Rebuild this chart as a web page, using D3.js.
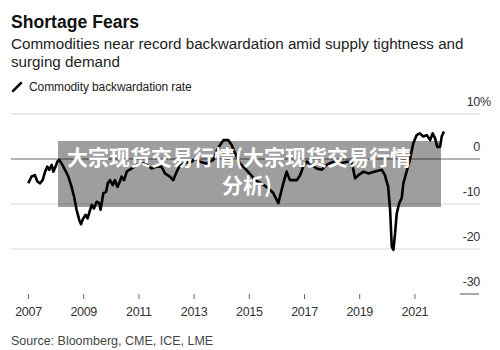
<!DOCTYPE html>
<html>
<head>
<meta charset="utf-8">
<script src="https://cdn.jsdelivr.net/npm/d3@7"></script>
<style>
    body { margin: 0; background: #fff; }
    svg { display: block; font-family: "Liberation Sans", Arial, sans-serif; }
</style>
</head>
<body>
<div id="chart"></div>
<script>
// decimal years and backwardation rate (%)
var dates = [
    2007.01, 2007.13, 2007.25, 2007.34, 2007.43, 2007.53, 2007.62, 2007.70, 2007.77, 2007.86,
    2007.92, 2008.00, 2008.06, 2008.13, 2008.22, 2008.34, 2008.46, 2008.58, 2008.67, 2008.76,
    2008.86, 2008.92, 2009.00, 2009.09, 2009.16, 2009.25, 2009.31, 2009.39, 2009.49, 2009.58,
    2009.63, 2009.73, 2009.83, 2009.89, 2009.97, 2010.07, 2010.15, 2010.24, 2010.33, 2010.39,
    2010.48, 2010.58, 2010.67, 2010.76, 2010.94, 2011.06, 2011.18, 2011.30, 2011.48, 2011.66,
    2011.84, 2011.96, 2012.14, 2012.26, 2012.39, 2012.51, 2012.75, 2012.93, 2013.05, 2013.23,
    2013.47, 2013.71, 2013.85, 2013.96, 2014.08, 2014.26, 2014.38, 2014.50, 2014.68, 2014.86,
    2015.04, 2015.26, 2015.48, 2015.70, 2015.88, 2016.07, 2016.25, 2016.37, 2016.49, 2016.74,
    2016.86, 2016.97, 2017.10, 2017.28, 2017.46, 2017.64, 2017.82, 2018.06, 2018.30, 2018.55,
    2018.73, 2018.85, 2018.97, 2019.15, 2019.33, 2019.57, 2019.82, 2019.93, 2020.05, 2020.12,
    2020.18, 2020.24, 2020.30, 2020.36, 2020.45, 2020.54, 2020.60, 2020.70, 2020.82, 2020.96,
    2021.08, 2021.20, 2021.32, 2021.45, 2021.57, 2021.66, 2021.75, 2021.83, 2021.93, 2021.99,
    2022.07
];
var rate = [
    -5.4, -3.9, -3.6, -5.0, -5.4, -4.7, -2.8, -1.7, -2.4, -1.3,
    -2.8, -1.7, -0.6, -0.2, -1.0, -2.4, -3.9, -6.2, -8.4, -11.3,
    -13.6, -14.5, -13.2, -12.4, -13.2, -11.3, -10.2, -11.0, -9.5, -9.8,
    -11.3, -7.6, -7.3, -5.4, -4.7, -5.8, -4.7, -6.2, -5.0, -3.9,
    -4.7, -2.8, -2.4, -2.1, -1.3, -1.0, -1.0, -1.3, -2.1, -1.7,
    -1.7, -3.2, -3.9, -4.7, -2.8, -1.3, -0.8, -0.6, 0.1, -0.6,
    -1.0, -0.2, 2.0, 3.1, 4.2, 4.2, 3.1, 1.3, -1.0, -2.1,
    -3.3, -4.8, -5.5, -6.5, -7.5, -9.8, -5.4, -2.8, -4.7, -4.7,
    -3.6, -1.7, -0.6, -1.3, -2.1, -2.4, -1.3, -0.6, -1.0, -0.6,
    -0.6, -4.3, -3.6, -2.8, -3.2, -2.8, -2.4, -3.6, -6.2, -11.3,
    -19.5, -20.2, -16.5, -12.1, -9.8, -8.7, -5.4, -3.2, -0.6, 3.5,
    5.3, 5.7, 5.0, 5.3, 4.2, 5.7, 4.6, 2.7, 2.7, 5.0,
    6.1
];
var yearTicks = [2007, 2009, 2011, 2013, 2015, 2017, 2019, 2021];
var valueTicks = [10, 0, -10, -20, -30];

var W = 500, H = 350;
var svg = d3.select("#chart").append("svg")
    .attr("width", W).attr("height", H);

var x = d3.scaleLinear().domain([2007, 2022]).range([28, 442]);
var y = d3.scaleLinear().domain([-30, 10]).range([294, 114]);

// header
svg.append("text").attr("x", 11).attr("y", 28)
    .attr("font-size", 17.6).attr("font-weight", "bold").attr("fill", "#111")
    .text("Shortage Fears");
svg.append("text").attr("x", 11).attr("y", 49)
    .attr("font-size", 15.2).attr("fill", "#222")
    .text("Commodities near record backwardation amid supply tightness and");
svg.append("text").attr("x", 11).attr("y", 67)
    .attr("font-size", 15.2).attr("fill", "#222")
    .text("surging demand");

// legend
svg.append("line").attr("x1", 13).attr("y1", 91).attr("x2", 21).attr("y2", 83)
    .attr("stroke", "#111").attr("stroke-width", 2.5).attr("stroke-linecap", "round");
svg.append("text").attr("x", 29).attr("y", 91)
    .attr("font-size", 12).attr("fill", "#222").attr("letter-spacing", -0.1)
    .text("Commodity backwardation rate");

// gridlines + right labels
var grid = svg.append("g");
valueTicks.forEach(function(v) {
    if (v === -30) {
        grid.append("line").attr("x1", 460).attr("x2", 479)
            .attr("y1", y(v)).attr("y2", y(v))
            .attr("stroke", "#555").attr("stroke-width", 1);
    } else if (v !== 0) {
        grid.append("line").attr("x1", 11).attr("x2", 480)
            .attr("y1", y(v)).attr("y2", y(v))
            .attr("stroke", "#e4e4e4").attr("stroke-width", 1.5);
    }
    grid.append("text").attr("x", 480).attr("y", y(v) - 8)
        .attr("text-anchor", "end").attr("font-size", 12.5).attr("fill", "#333")
        .attr("letter-spacing", -0.3)
        .text(String(v));
    if (v === 10) {
        grid.append("text").attr("x", 480).attr("y", y(v) - 8)
            .attr("font-size", 12.5).attr("fill", "#333").text("%");
    }
});
grid.append("line").attr("x1", 11).attr("x2", 480)
    .attr("y1", y(0)).attr("y2", y(0))
    .attr("stroke", "#666").attr("stroke-width", 1);

// x axis
var xAxis = d3.axisBottom(x).tickValues(yearTicks).tickFormat(d3.format("d"))
    .tickSize(5).tickPadding(8);
var gx = svg.append("g").attr("transform", "translate(0,294)").call(xAxis);
gx.select(".domain").remove();
gx.selectAll(".tick line").attr("stroke", "#666");
gx.selectAll(".tick text").attr("font-size", 12.5).attr("fill", "#333")
    .attr("font-family", "Liberation Sans, Arial, sans-serif").attr("letter-spacing", -0.3);

// the line
var pts = dates.map(function(d, i) { return [d, rate[i]]; });
var line = d3.line()
    .x(function(d) { return x(d[0]); })
    .y(function(d) { return y(d[1]); });
svg.append("path").datum(pts)
    .attr("d", line)
    .attr("fill", "none").attr("stroke", "#000")
    .attr("stroke-width", 2.6).attr("stroke-linejoin", "round");

// source
svg.append("text").attr("x", 11).attr("y", 345)
    .attr("font-size", 12.5).attr("fill", "#444")
    .text("Source: Bloomberg, CME, ICE, LME");

// watermark overlay
svg.append("rect").attr("x", 58).attr("y", 141).attr("width", 383).attr("height", 66)
    .attr("fill", "#000").attr("fill-opacity", 0.38);
var wm = svg.append("g").attr("font-family", "'Noto Sans CJK SC', sans-serif")
    .attr("font-weight", "bold").attr("font-size", 21).attr("fill", "#fff");
wm.append("text").attr("x", 67).attr("y", 165).text("大宗现货交易行情(大宗现货交易行情");
wm.append("text").attr("x", 222).attr("y", 193).text("分析)");
</script>
</body>
</html>
